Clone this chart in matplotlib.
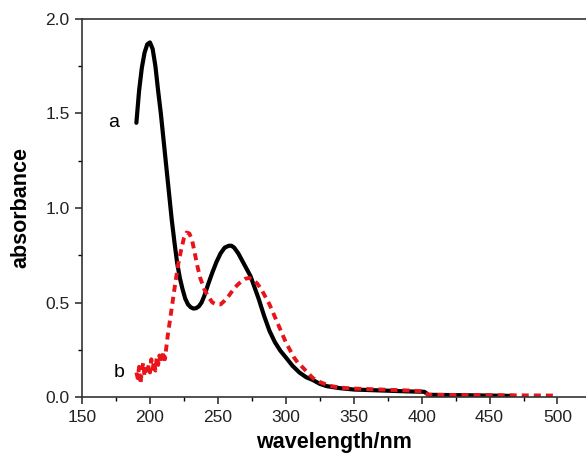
import matplotlib

matplotlib.use("Agg")
import matplotlib.pyplot as plt
from matplotlib.ticker import MultipleLocator

plt.rcParams["font.family"] = ["Liberation Sans", "DejaVu Sans"]

# curve a (black, solid)
wl_a = [190, 192, 194, 196, 198, 200, 202, 204, 206, 208, 210, 212, 214, 216, 218,
        220, 222, 224, 226, 228, 230, 232, 234, 236, 238, 240, 243, 246, 249, 252,
        255, 258, 260, 262, 265, 268, 271, 274, 277, 280, 284, 288, 292, 296, 300,
        305, 310, 315, 320, 325, 330, 340, 350, 370, 390, 402, 405, 430, 450, 468]
abs_a = [1.45, 1.62, 1.74, 1.82, 1.865, 1.875, 1.84, 1.75, 1.62, 1.50, 1.36, 1.22, 1.08, 0.94, 0.82,
         0.71, 0.63, 0.57, 0.52, 0.49, 0.475, 0.468, 0.47, 0.48, 0.50, 0.535, 0.60, 0.66, 0.715, 0.76,
         0.79, 0.80, 0.80, 0.79, 0.76, 0.72, 0.68, 0.64, 0.58, 0.52, 0.43, 0.35, 0.29, 0.245, 0.21,
         0.165, 0.13, 0.105, 0.09, 0.07, 0.058, 0.047, 0.04, 0.035, 0.03, 0.028, 0.012, 0.01, 0.008, 0.006]

# curve b (red, dashed)
wl_b = [190, 191, 192, 193, 194, 195, 196, 197, 198, 199, 200, 201, 202, 203, 204,
        205, 206, 207, 208, 209, 210, 211, 212, 213, 215, 217, 219, 221, 223, 225,
        227, 229, 231, 233, 235, 237, 240, 243, 246, 249, 252, 255, 258, 261, 264,
        267, 270, 273, 276, 279, 282, 285, 288, 291, 294, 297, 300, 303, 306, 309,
        312, 316, 320, 325, 332, 340, 350, 370, 390, 402, 405, 450, 500]
abs_b = [0.13, 0.10, 0.16, 0.07, 0.14, 0.18, 0.11, 0.15, 0.12, 0.17, 0.13, 0.20, 0.15, 0.19, 0.14,
         0.21, 0.17, 0.22, 0.18, 0.20, 0.24, 0.20, 0.26, 0.32, 0.42, 0.52, 0.62, 0.71, 0.78, 0.84,
         0.87, 0.865, 0.83, 0.76, 0.69, 0.63, 0.57, 0.53, 0.50, 0.49, 0.49, 0.51, 0.535, 0.565, 0.59,
         0.61, 0.625, 0.63, 0.62, 0.60, 0.57, 0.53, 0.49, 0.44, 0.39, 0.34, 0.29, 0.25, 0.21, 0.18,
         0.16, 0.13, 0.10, 0.08, 0.06, 0.05, 0.045, 0.04, 0.035, 0.03, 0.012, 0.01, 0.008]

fig = plt.figure(figsize=(5.86, 4.58), dpi=100)
ax = fig.add_axes([0.14, 0.133, 0.86, 0.826])

ax.plot(wl_a, abs_a, color="black", linewidth=3.0, solid_capstyle="round")
ax.plot(wl_b, abs_b, color="#e8141a", linewidth=2.8, dashes=(1.8, 1.3))

ax.text(173, 1.45, "a", fontsize=14, ha="center", va="center")
ax.text(177, 0.13, "b", fontsize=14, ha="center", va="center")

ax.set_xlim(150, 521)
ax.set_ylim(0, 2.0)
ax.xaxis.set_major_locator(MultipleLocator(50))
ax.xaxis.set_minor_locator(MultipleLocator(25))
ax.yaxis.set_major_locator(MultipleLocator(0.5))
ax.yaxis.set_minor_locator(MultipleLocator(0.25))
ax.yaxis.set_major_formatter(matplotlib.ticker.FormatStrFormatter("%.1f"))
ax.set_xticks([150, 200, 250, 300, 350, 400, 450, 500])

ax.spines["right"].set_visible(False)
for side in ("left", "bottom", "top"):
    ax.spines[side].set_linewidth(1.2)
    ax.spines[side].set_color("#333333")
ax.tick_params(which="major", direction="out", length=5, width=1.1, labelsize=12.5,
               top=False, right=False, colors="#222222", pad=4)
ax.tick_params(which="minor", direction="out", length=3, width=1.0, top=False, right=False)

ax.set_xlabel("wavelength/nm", fontsize=15.5, fontweight="bold", labelpad=5)
ax.set_ylabel("absorbance", fontsize=15.5, fontweight="bold", labelpad=10)

fig.savefig("out.png", dpi=100)
